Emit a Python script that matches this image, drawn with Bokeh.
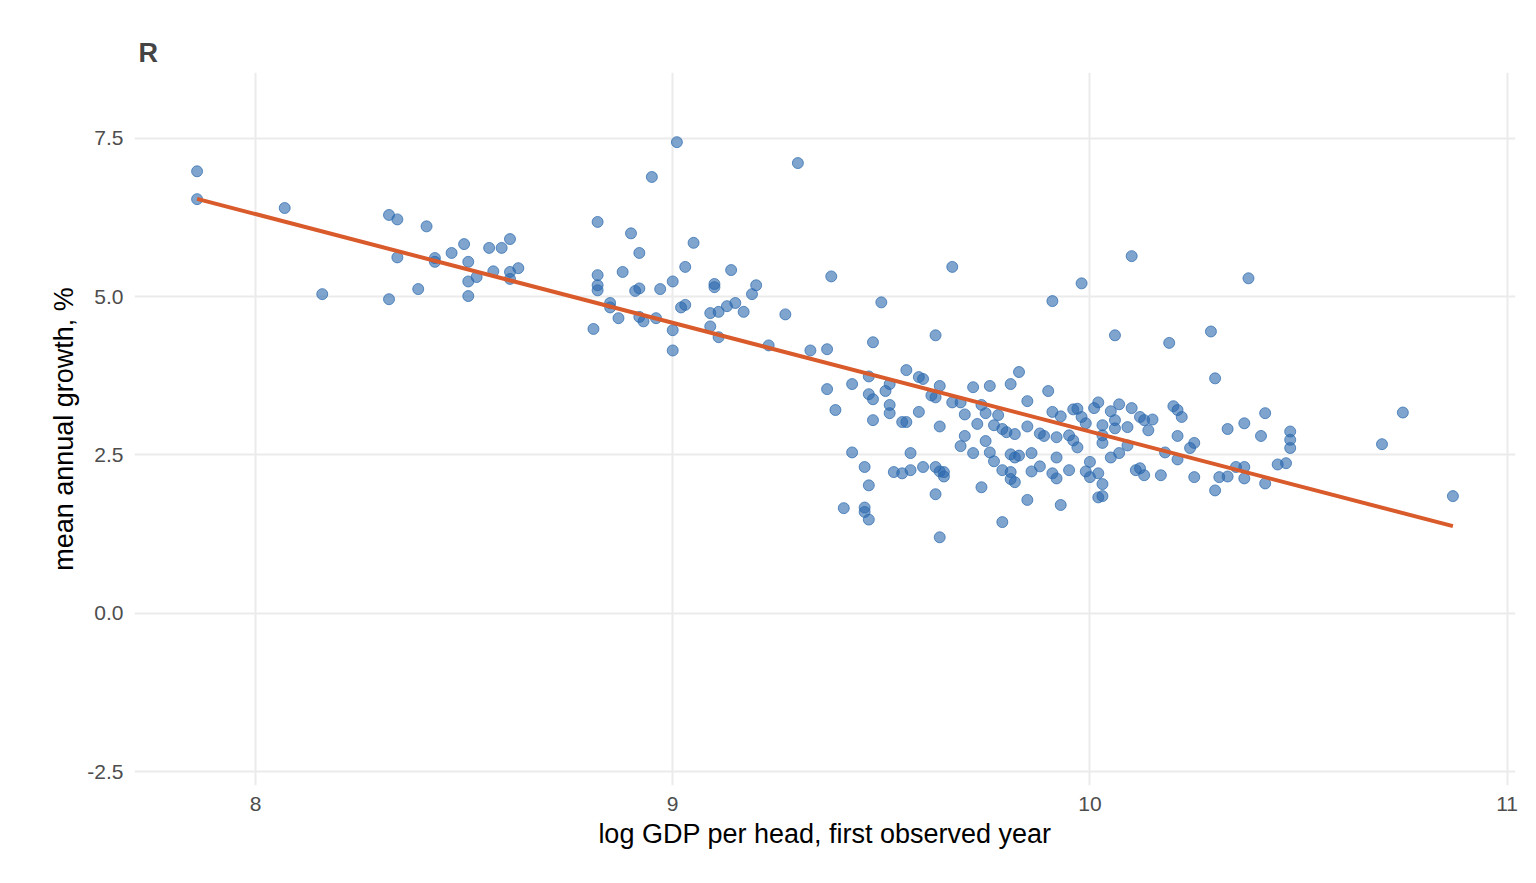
import numpy as np
from bokeh.plotting import figure
from bokeh.models import Range1d, FixedTicker
from bokeh.embed import file_html
from bokeh.resources import INLINE

log_gdp = [7.86,7.86,8.07,8.16,8.32,8.34,8.32,8.34,8.39,8.41,8.43,8.43,8.47,8.50,8.51,8.51,8.51,8.53,8.56,8.57,8.59,8.61,8.61,8.61,8.63,
 8.81,8.82,8.82,8.82,8.82,8.85,8.85,8.87,8.88,8.90,8.91,8.92,8.92,8.92,8.93,8.95,8.96,8.97,9.00,9.00,9.00,9.01,9.02,9.03,9.03,9.05,
 9.09,9.09,9.10,9.10,9.11,9.11,9.13,9.14,9.15,9.17,9.19,9.20,9.23,9.27,9.30,9.33,9.37,9.38,9.37,9.39,
 9.67,9.50,9.91,9.98,9.63,9.48,9.47,9.43,9.47,9.48,9.52,9.51,9.52,9.52,9.48,9.55,9.56,9.56,9.59,9.60,9.64,9.62,9.63,9.59,9.64,
 9.43,9.46,9.47,9.41,9.46,9.46,9.47,9.53,9.55,9.57,9.57,9.60,9.63,9.64,9.65,9.65,9.63,9.64,9.67,9.69,9.72,9.76,9.81,9.83,
 9.70,9.74,9.75,9.78,9.73,9.77,9.79,9.80,9.82,9.85,9.85,9.90,9.70,9.69,9.75,9.72,9.76,9.77,9.79,9.81,9.82,9.83,9.86,9.81,9.81,
 9.82,9.86,9.88,9.74,9.85,9.79,9.93,9.91,9.93,9.96,9.88,9.89,9.92,9.95,9.96,9.97,9.92,9.91,9.92,9.95,9.99,10.00,10.00,9.99,10.02,
 10.06,10.19,10.29,10.30,9.97,10.01,10.02,10.07,10.10,10.05,9.98,10.03,10.06,10.06,10.09,10.12,10.13,10.15,10.14,10.20,10.21,10.22,
 10.21,10.25,10.24,10.33,10.37,10.42,10.41,10.48,10.48,10.48,10.45,10.47,10.03,10.03,10.05,10.07,10.09,10.02,10.03,10.03,10.11,
 10.12,10.13,10.17,10.18,10.21,10.25,10.30,10.31,10.33,10.35,10.37,10.37,10.42,10.38,10.10,10.70,10.75,10.87]
growth = [6.98,6.54,6.40,5.04,6.29,6.22,4.96,5.62,5.12,6.11,5.61,5.55,5.69,5.83,5.55,5.24,5.01,5.31,5.77,5.40,5.77,5.91,5.39,5.28,5.45,
 4.49,6.18,5.34,5.18,5.10,4.90,4.83,4.66,5.39,6.00,5.09,5.69,5.13,4.68,4.61,6.89,4.66,5.12,5.24,4.47,4.15,7.44,4.83,5.47,4.87,5.85,
 4.53,4.74,5.20,5.15,4.36,4.76,4.85,5.42,4.90,4.76,5.04,5.18,4.23,4.72,7.11,4.15,4.17,5.32,3.54,3.21,
 5.47,4.91,4.93,5.21,4.39,4.28,3.74,3.62,3.46,3.38,3.62,3.51,3.29,3.16,3.05,3.02,3.02,3.84,3.73,3.70,3.59,3.44,3.41,3.18,2.95,
 2.54,2.31,2.02,1.66,1.67,1.60,1.48,2.23,2.21,2.53,2.26,2.31,2.31,2.24,2.23,2.16,1.88,1.20,3.33,3.33,3.57,3.59,3.62,3.81,
 3.14,3.29,3.16,3.13,2.99,2.97,2.91,2.86,2.83,2.95,3.35,3.51,2.80,2.64,2.72,2.53,2.54,2.40,2.26,2.51,2.46,2.49,2.53,2.23,2.12,
 2.07,2.24,2.32,1.99,1.79,1.44,1.71,3.18,3.11,3.22,2.84,2.80,2.78,2.81,2.73,2.62,2.46,2.21,2.13,2.26,2.24,2.39,2.15,3.00,1.83,
 4.39,4.27,4.45,3.71,3.23,3.24,3.33,3.30,3.24,3.19,3.10,2.97,3.05,2.92,2.94,3.10,3.05,3.06,2.89,3.27,3.21,3.10,
 2.80,2.69,2.61,2.91,3.00,3.16,2.80,2.87,2.74,2.61,2.35,2.37,2.69,2.81,2.46,2.53,2.65,2.21,2.04,1.85,2.26,
 2.29,2.18,2.18,2.54,2.43,2.15,1.94,2.15,2.16,2.31,2.31,2.13,2.05,5.29,5.64,2.67,3.17,1.85]

x_ticks = [8, 9, 10, 11]
y_ticks = [-2.5, 0.0, 2.5, 5.0, 7.5]

p = figure(width=1520, height=867, output_backend="svg", toolbar_location=None,
           x_range=Range1d(7.71, 11.02), y_range=Range1d(-2.72, 8.54),
           min_border_left=134, min_border_right=5, min_border_top=72, min_border_bottom=82)
p.title.text = "R"
p.title.text_font = "Liberation Sans"
p.title.text_font_size = "27px"
p.title.text_font_style = "bold"
p.title.offset = 4
p.outline_line_color = None
p.background_fill_color = "white"

x = np.array(log_gdp); y = np.array(growth)
p.scatter(x, y, size=11, fill_color="#2a68ad", fill_alpha=0.6, line_color="#2a68ad", line_alpha=0.7, line_width=1)
b, a = np.polyfit(x, y, 1)
xs = np.array([x.min(), x.max()])
p.line(xs, a + b * xs, line_color="#d95a2b", line_width=4)

for ax in (p.xaxis[0], p.yaxis[0]):
    ax.axis_line_color = None
    ax.major_tick_line_color = None
    ax.minor_tick_line_color = None
    ax.major_label_text_font = "Liberation Sans"
    ax.major_label_text_font_size = "21px"
    ax.major_label_text_color = "#4d4d4d"
    ax.axis_label_text_font = "Liberation Sans"
    ax.axis_label_text_font_size = "27px"
    ax.axis_label_text_font_style = "normal"
    ax.axis_label_text_color = "black"
p.xaxis.ticker = FixedTicker(ticks=x_ticks)
p.yaxis.ticker = FixedTicker(ticks=y_ticks)
p.yaxis.major_label_overrides = {v: f"{v:.1f}" for v in y_ticks}
p.xaxis.axis_label = "log GDP per head, first observed year"
p.yaxis.axis_label = "mean annual growth, %"
p.xgrid.ticker = FixedTicker(ticks=x_ticks)
p.ygrid.ticker = FixedTicker(ticks=y_ticks)
p.grid.grid_line_color = "#ebebeb"
p.grid.grid_line_width = 2

open("out.html", "w").write(file_html(p, INLINE))
